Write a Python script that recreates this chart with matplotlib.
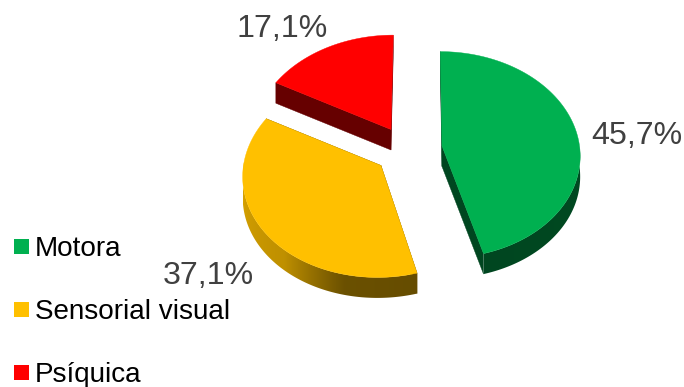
"""Exploded 3D-look pie: shares per type of disability, drawn as perspective-projected wedges."""
import numpy as np
import matplotlib; matplotlib.use("Agg")
import matplotlib.pyplot as plt
from matplotlib.colors import to_rgb
from matplotlib.patches import Polygon, Rectangle

categories = ["Motora", "Sensorial visual", "Psíquica"]
shares = [45.7, 37.1, 17.1]
colors = ["#00B050", "#FFC000", "#FF0000"]

# pixel layout of the exploded slices
apexes = [(442, 146), (381, 165.5), (391, 129.5)]
label_pos = [(591.5, 144), (163, 284.5), (236.5, 37)]
legend_y = [239, 302, 365]
RX, RY, TILT, VANISH_X, DEPTH = 137.5, 102.4, 0.085, 420, 20.5

plt.rcParams["font.family"] = ["Liberation Sans", "DejaVu Sans"]


def project(apex, theta, r=1.0):
    # theta runs clockwise from 12 o'clock, far side of the disc shrinks slightly
    u, v = r * np.sin(theta), r * np.cos(theta)
    s = 1.0 / (1.0 + TILT * v)
    return np.column_stack([VANISH_X + (apex[0] - VANISH_X + u * RX) * s, apex[1] - v * RY * s])


def rim_shade(deg):
    # brightness of the outer wall depending on where it faces
    return np.interp(deg, [90, 165, 193, 220, 270, 360], [0.42, 0.40, 0.42, 0.75, 0.85, 0.85])


fig = plt.figure(figsize=(6.84, 3.87), dpi=100)
ax = fig.add_axes([0, 0, 1, 1])

total = sum(shares)
start = 0.0
for share, col, apex, lab, lp in zip(shares, colors, apexes, categories, label_pos):
    sweep = share / total * 360
    degs = np.linspace(start, start + sweep, 160)
    rim = project(apex, np.radians(degs))
    outline = np.vstack([[apex], rim])
    base = np.array(to_rgb(col))
    drop = np.array([0, DEPTH])

    # straight cut faces
    for p, q in [(rim[0], apex), (apex, rim[-1])]:
        p, q = np.asarray(p, float), np.asarray(q, float)
        ax.add_patch(Polygon([p, q, q + drop, p + drop], fc=base * 0.40, ec=base * 0.40, lw=0.3, zorder=2))

    # curved wall: horizontal gradient clipped to the rim strip
    keep = (degs >= 90) & (degs <= 272)
    if keep.sum() > 1:
        rd, rp = degs[keep], rim[keep]
        xs = np.linspace(rp[:, 0].min(), rp[:, 0].max(), 300)
        order = np.argsort(rp[:, 0])
        shade = rim_shade(np.interp(xs, rp[order, 0], rd[order]))
        grad = (base[None, :] * shade[:, None])[None, :, :]
        ys = (rp[:, 1].min(), rp[:, 1].max() + DEPTH)
        strip = Polygon(np.vstack([rp, (rp + drop)[::-1]]), closed=True, transform=ax.transData, fc="none", ec="none")
        ax.add_patch(strip)
        im = ax.imshow(grad, extent=(xs[0], xs[-1], ys[1], ys[0]), aspect="auto", interpolation="bilinear", zorder=2)
        im.set_clip_path(strip)

    ax.add_patch(Polygon(outline, closed=True, fc=col, ec=col, lw=0.3, zorder=3))
    ax.text(lp[0], lp[1], f"{share:.1f}%".replace(".", ","), fontsize=23.1, color="#404040", va="baseline", zorder=5)
    start += sweep

# legend
for lab, col, y in zip(categories, colors, legend_y):
    ax.add_patch(Rectangle((14, y), 15, 15, fc=col, ec="none", zorder=5))
    ax.text(35, y + 17, lab, fontsize=20.1, color="#000000", va="baseline", zorder=5)

ax.set_xlim(0, 684); ax.set_ylim(387, 0); ax.axis("off")
fig.savefig("out.png", dpi=100)
plt.close(fig)
